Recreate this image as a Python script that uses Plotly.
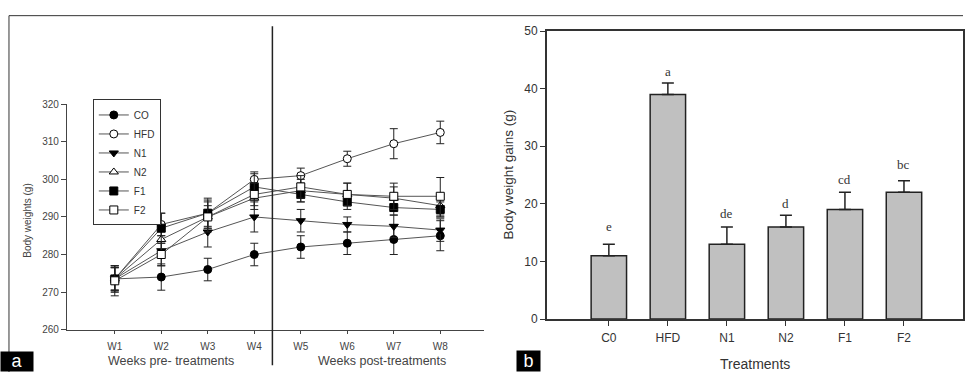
import plotly.graph_objects as go

W, H = 965, 379

weeks = ["W1", "W2", "W3", "W4", "W5", "W6", "W7", "W8"]
series_names = ["CO", "HFD", "N1", "N2", "F1", "F2"]
co_vals = [273.5, 274, 276, 280, 282, 283, 284, 285]
co_err = [3, 3.5, 3, 3, 3, 3, 4, 4]
hfd_vals = [273.5, 288, 291, 300, 301, 305.5, 309.5, 312.5]
hfd_err = [3.5, 3, 3.5, 2, 2, 2, 4, 3]
n1_vals = [273.5, 281, 286, 290, 289, 288, 287.5, 286.5]
n1_err = [3, 4, 4, 4, 3, 2, 3, 3]
n2_vals = [273.5, 284, 290, 295, 297, 296, 295, 293]
n2_err = [3.5, 3, 4, 3, 3, 3, 3, 3]
f1_vals = [273.5, 287, 291, 298, 296, 294, 292.5, 292]
f1_err = [3, 4, 4, 3.5, 2, 2, 2, 2]
f2_vals = [273, 280, 290, 296, 298, 296, 295.5, 295.5]
f2_err = [4, 3, 3, 3, 3, 3, 3.5, 5]

treatments = ["C0", "HFD", "N1", "N2", "F1", "F2"]
gains = [11, 39, 13, 16, 19, 22]
gains_err = [2, 2, 3, 2, 3, 2]
letters = ["e", "a", "de", "d", "cd", "bc"]
letter_pos = [16, 43, 18.3, 20, 24.3, 26.8]

FONT = "Liberation Sans, Arial, sans-serif"

def px(x):
    return x / W

def py(y):
    return 1 - y / H

fig = go.Figure()

styles = [
    ("circle", "black"),
    ("circle", "white"),
    ("triangle-down", "black"),
    ("triangle-up", "white"),
    ("square", "black"),
    ("square", "white"),
]
all_vals = [co_vals, hfd_vals, n1_vals, n2_vals, f1_vals, f2_vals]
all_errs = [co_err, hfd_err, n1_err, n2_err, f1_err, f2_err]

for name, vals, errs, (sym, fill) in zip(series_names, all_vals, all_errs, styles):
    fig.add_trace(go.Scatter(
        x=list(range(len(weeks))), y=vals, name=name, mode="lines+markers",
        line=dict(color="#555555", width=1),
        marker=dict(symbol=sym, size=8, color=fill, line=dict(color="black", width=1)),
        error_y=dict(type="data", array=errs, visible=True, color="#222222", thickness=1, width=4),
        xaxis="x", yaxis="y",
    ))

fig.add_trace(go.Bar(
    x=list(range(len(treatments))), y=gains, width=0.6,
    marker=dict(color="#c0c0c0", line=dict(color="#222222", width=1.5)),
    error_y=dict(type="data", array=gains_err, arrayminus=[0] * len(gains_err), symmetric=False,
                 visible=True, color="#222222", thickness=1.5, width=6),
    showlegend=False, xaxis="x2", yaxis="y2",
))

fig.update_layout(
    width=W, height=H, margin=dict(l=0, r=0, t=0, b=0),
    paper_bgcolor="white", plot_bgcolor="white",
    font=dict(family=FONT, color="#333333"),
    showlegend=True,
    legend=dict(x=px(93), y=py(96), xanchor="left", yanchor="top",
                bordercolor="#333333", borderwidth=1, bgcolor="white",
                font=dict(size=10, family=FONT, color="#333333"),
                itemwidth=30, tracegroupgap=0),
    xaxis=dict(domain=[px(67), px(485)], range=[-1.03, 7.94],
               tickvals=list(range(len(weeks))), ticktext=weeks,
               showline=True, linecolor="#444444", linewidth=1,
               ticks="outside", ticklen=3, tickcolor="#444444",
               ticklabelstandoff=4,
               showgrid=False, zeroline=False,
               tickfont=dict(size=10, color="#444444")),
    yaxis=dict(domain=[py(335), py(101)], range=[260, 320], dtick=10,
               showline=True, linecolor="#444444", linewidth=1,
               ticks="outside", ticklen=5, tickcolor="#444444",
               showgrid=False, zeroline=False,
               tickfont=dict(size=10, color="#444444")),
    xaxis2=dict(domain=[px(548), 1.0], range=[-1.05, 6.0],
                tickvals=list(range(len(treatments))), ticktext=treatments,
                showline=True, mirror=True, linecolor="#333333", linewidth=1.5,
                ticks="outside", ticklen=5, tickcolor="#333333",
                ticklabelstandoff=2,
                showgrid=False, zeroline=False,
                tickfont=dict(size=12, color="#333333"), anchor="y2"),
    yaxis2=dict(domain=[py(324), py(25)], range=[0, 50], dtick=10,
                showline=True, mirror=True, linecolor="#333333", linewidth=1.5,
                ticks="outside", ticklen=5, tickcolor="#333333",
                showgrid=False, zeroline=False,
                tickfont=dict(size=12, color="#333333"), anchor="x2"),
)

annotations = [
    dict(text="Body weights (g)", x=px(28), y=py(222), xref="paper", yref="paper",
         xanchor="center", yanchor="middle",
         textangle=-90, showarrow=False, font=dict(size=10, color="#444444")),
    dict(text="Weeks pre- treatments", x=px(171), y=py(368), xref="paper", yref="paper",
         xanchor="center", yanchor="middle",
         showarrow=False, font=dict(size=12.5, color="#444444")),
    dict(text="Weeks post-treatments", x=px(383), y=py(368), xref="paper", yref="paper",
         xanchor="center", yanchor="middle",
         showarrow=False, font=dict(size=12.5, color="#444444")),
    dict(text="Body weight gains (g)", x=px(510), y=py(174), xref="paper", yref="paper",
         xanchor="center", yanchor="middle",
         textangle=-90, showarrow=False, font=dict(size=13.5, color="#333333")),
    dict(text="Treatments", x=px(757), y=py(371), xref="paper", yref="paper",
         xanchor="center", yanchor="middle",
         showarrow=False, font=dict(size=14, color="#333333")),
    dict(text="a", x=0, y=0, xref="paper", yref="paper", xanchor="left", yanchor="bottom",
         showarrow=False, bgcolor="black", font=dict(size=18, color="white", family=FONT),
         borderpad=0, width=32, height=19, valign="bottom"),
    dict(text="b", x=px(517), y=0, xref="paper", yref="paper", xanchor="left", yanchor="bottom",
         showarrow=False, bgcolor="black", font=dict(size=18, color="white", family=FONT),
         borderpad=0, width=23, height=20, valign="bottom"),
]
for i, (lt, lp) in enumerate(zip(letters, letter_pos)):
    annotations.append(dict(text=lt, x=i, y=lp, xref="x2", yref="y2", showarrow=False,
                            xanchor="center", yanchor="middle",
                            font=dict(size=13, color="#333333", family="Liberation Serif, serif")))
fig.update_layout(annotations=annotations)

fig.update_layout(shapes=[
    dict(type="line", xref="paper", yref="paper", x0=px(9), x1=1, y0=py(9), y1=py(9),
         line=dict(color="#333333", width=1)),
    dict(type="line", xref="paper", yref="paper", x0=px(9), x1=px(9), y0=0, y1=py(9),
         line=dict(color="#333333", width=1)),
    dict(type="line", xref="x", yref="paper", x0=3.39, x1=3.39, y0=py(372), y1=py(20),
         line=dict(color="#222222", width=1.5)),
])

fig.write_html("out.html")
